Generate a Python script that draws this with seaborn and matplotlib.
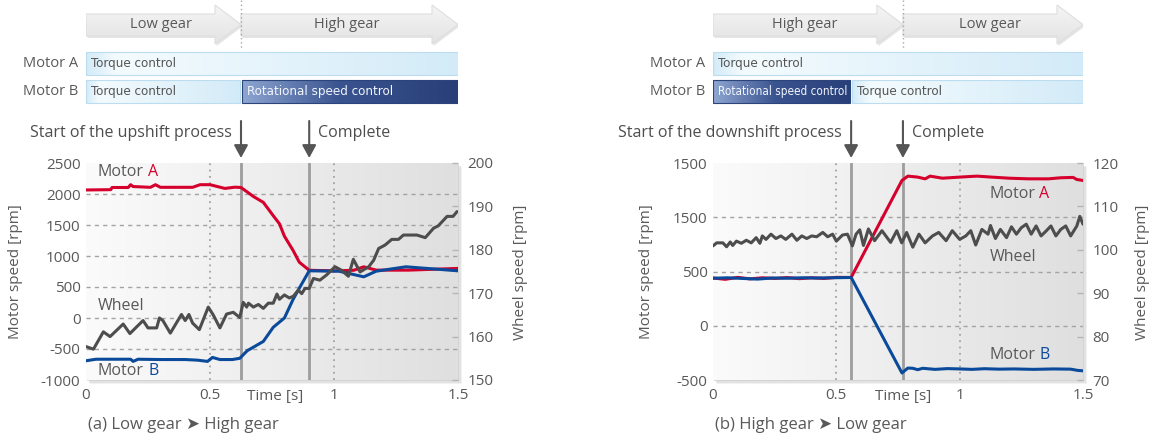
#!/usr/bin/env python3
import numpy as np
import matplotlib
matplotlib.use("Agg")
from matplotlib import pyplot as plt
from matplotlib.patches import Polygon, Rectangle
from matplotlib.colors import LinearSegmentedColormap
from matplotlib.offsetbox import TextArea, HPacker, AnnotationBbox
from matplotlib import font_manager
from matplotlib.font_manager import FontProperties
import seaborn as sns


# ---- (a) upshift: low gear -> high gear ----
up_start, up_complete = 0.625, 0.9
up_time_a = [0.0, 0.10, 0.105, 0.17, 0.18, 0.19, 0.26, 0.28, 0.30, 0.43, 0.46, 0.50, 0.56, 0.60, 0.625,
             0.675, 0.715, 0.755, 0.78, 0.80, 0.835, 0.86, 0.90, 1.00, 1.08, 1.12, 1.17, 1.30, 1.50]
up_motor_a = [2065, 2070, 2105, 2105, 2150, 2120, 2108, 2150, 2108, 2108, 2150, 2150, 2090, 2110, 2105,
              1960, 1865, 1650, 1520, 1320, 1090, 900, 770, 760, 770, 826, 772, 772, 800]
up_time_b = [0.0, 0.04, 0.18, 0.19, 0.21, 0.30, 0.40, 0.45, 0.49, 0.51, 0.54, 0.59, 0.62, 0.65, 0.715,
             0.755, 0.80, 0.835, 0.86, 0.90, 1.02, 1.12, 1.17, 1.29, 1.50]
up_motor_b = [-690, -665, -665, -700, -665, -670, -670, -680, -700, -636, -670, -670, -650, -528, -378,
              -150, 0, 300, 480, 761, 755, 664, 755, 826, 761]
up_time_wheel = [0.0, 0.03, 0.07, 0.097, 0.15, 0.177, 0.23, 0.25, 0.285, 0.296, 0.31, 0.34, 0.385, 0.40,
                 0.415, 0.43, 0.457, 0.493, 0.513, 0.54, 0.567, 0.594, 0.62, 0.634, 0.648, 0.655, 0.675,
                 0.695, 0.715, 0.735, 0.755, 0.77, 0.78, 0.80, 0.82, 0.836, 0.856, 0.87, 0.883, 0.90,
                 0.917, 0.943, 0.97, 1.004, 1.03, 1.058, 1.078, 1.105, 1.14, 1.16, 1.18, 1.206, 1.233,
                 1.26, 1.28, 1.334, 1.368, 1.402, 1.42, 1.456, 1.48, 1.496]
up_wheel = [157.7, 157.1, 161.1, 160.0, 162.9, 160.7, 163.7, 162.0, 162.0, 164.3, 163.7, 160.8, 165.1, 163.7,
            165.1, 163.1, 161.6, 166.8, 165.0, 162.0, 165.2, 165.6, 164.4, 167.9, 166.8, 167.7, 166.8,
            167.4, 166.5, 167.7, 167.7, 169.8, 168.6, 169.6, 168.9, 169.3, 170.7, 169.9, 171.1, 171.1,
            173.4, 173.0, 174.2, 176.1, 175.3, 173.9, 177.8, 174.9, 176.1, 177.6, 180.3, 181.1, 182.4,
            182.4, 183.4, 183.4, 182.8, 185.0, 185.5, 187.7, 187.7, 188.8]

# ---- (b) downshift: high gear -> low gear ----
down_start, down_complete = 0.56, 0.77
down_time_a = [0.0, 0.05, 0.10, 0.15, 0.20, 0.25, 0.30, 0.35, 0.40, 0.45, 0.50, 0.56, 0.766, 0.79, 0.83,
               0.86, 0.88, 0.93, 1.0, 1.07, 1.13, 1.2, 1.28, 1.36, 1.41, 1.46, 1.475, 1.50]
down_motor_a = [440, 428, 446, 432, 442, 436, 444, 434, 442, 436, 446, 445, 1339, 1379, 1370,
                1354, 1379, 1360, 1370, 1379, 1370, 1360, 1354, 1354, 1364, 1367, 1348, 1339]
down_time_b = [0.0, 0.06, 0.12, 0.18, 0.24, 0.30, 0.36, 0.42, 0.48, 0.56, 0.766, 0.79, 0.81, 0.83, 0.85,
               0.9, 0.95, 1.0, 1.05, 1.1, 1.16, 1.22, 1.3, 1.38, 1.45, 1.48, 1.50]
down_motor_b = [438, 442, 436, 430, 440, 438, 442, 440, 442, 445, -435, -390, -392, -405, -392,
                -402, -395, -398, -402, -396, -400, -398, -402, -398, -400, -412, -415]
down_time_wheel = [0.00, 0.015, 0.04, 0.055, 0.07, 0.08, 0.095, 0.115, 0.135, 0.155, 0.175, 0.19, 0.20,
                   0.215, 0.235, 0.255, 0.275, 0.295, 0.32, 0.34, 0.36, 0.38, 0.40, 0.42, 0.445, 0.465,
                   0.485, 0.50, 0.525, 0.545, 0.565, 0.58, 0.595, 0.61, 0.63, 0.655, 0.685, 0.72, 0.745,
                   0.765, 0.785, 0.81, 0.835, 0.86, 0.89, 0.915, 0.945, 0.97, 1.00, 1.025, 1.045, 1.065,
                   1.09, 1.115, 1.125, 1.145, 1.165, 1.19, 1.21, 1.23, 1.25, 1.27, 1.29, 1.31, 1.33,
                   1.35, 1.37, 1.39, 1.41, 1.43, 1.45, 1.475, 1.487, 1.50]
down_wheel = [100.9, 101.6, 101.6, 100.7, 101.8, 101.0, 102.0, 101.5, 102.2, 101.6, 102.8, 101.5, 103.2,
              102.4, 103.6, 102.6, 103.2, 102.4, 103.6, 102.2, 103.2, 102.6, 103.2, 103.0, 104.0, 103.0,
              103.6, 102.0, 103.4, 103.6, 100.9, 103.6, 104.6, 101.0, 104.8, 102.1, 104.4, 101.7, 104.4,
              101.6, 104.0, 100.6, 103.6, 101.6, 103.2, 104.0, 102.1, 104.4, 102.4, 103.2, 104.4, 101.1,
              104.7, 103.6, 105.6, 102.6, 104.7, 102.8, 105.3, 103.6, 105.1, 105.9, 103.6, 105.5, 103.2,
              104.3, 105.5, 103.2, 104.7, 105.5, 103.2, 105.5, 107.7, 105.9]

time_ticks = [0, 0.5, 1, 1.5]
time_ticklabels = ['0', '0.5', '1', '1.5']
up_motor_ticks = [-1000, -500, 0, 500, 1000, 1500, 2000, 2500]
up_motor_ticklabels = ['-1000', '-500', '0', '500', '1000', '1500', '2000', '2500']
down_motor_ticks = [-500, 0, 500, 1000, 1500]
down_motor_ticklabels = ['-500', '0', '500', '1500', '1500']
up_wheel_ticks = [150, 160, 170, 180, 190, 200]
down_wheel_ticks = [70, 80, 90, 100, 110, 120]

RED = '#d5002c'
BLUE = '#0b4a9b'
WHEEL = '#4d4d4d'
TXT = '#595959'
W, H = 1153, 441

sns.set_theme(style="white")
plt.rcParams['font.family'] = ['Open Sans', 'DejaVu Sans']
plt.rcParams['text.color'] = TXT


def narrow_font(size):
	# the control-mode labels use a condensed face; take one if any is installed
	for f in font_manager.fontManager.ttflist:
		n = f.name.lower()
		cond = 'narrow' in n or 'condensed' in n or f.stretch in ('condensed', 'semi-condensed')
		if cond and f.style == 'normal' and f.weight in (400, 'normal', 'regular'):
			return FontProperties(fname=f.fname, size=size)
	return FontProperties(family='Roboto', size=size - 1.2)


BAR_FONT = narrow_font(9.5)

fig = plt.figure(figsize=(W / 100, H / 100), dpi=100)
renderer = fig.canvas.get_renderer()


def px_box(x0, y0, x1, y1):
	return [x0 / W, 1 - y1 / H, (x1 - x0) / W, (y1 - y0) / H]


def grad_image(ax, extent, colors, vertical=False, clip=None, zorder=0):
	cmap = LinearSegmentedColormap.from_list('g', colors)
	g = np.linspace(0, 1, 256)
	g = g.reshape(-1, 1) if vertical else g.reshape(1, -1)
	im = ax.imshow(g, cmap=cmap, extent=extent, aspect='auto', zorder=zorder, interpolation='bilinear')
	if clip is not None:
		im.set_clip_path(clip)
	return im


def two_tone(ax, x, y, s1, s2, c2):
	kids = [TextArea(s1, textprops=dict(color=TXT, size=11.5))]
	if s2:
		kids.append(TextArea(s2, textprops=dict(color=c2, size=11.5)))
	box = HPacker(children=kids, sep=3, pad=0, align='baseline')
	ab = AnnotationBbox(box, (x, y), xycoords='data', frameon=False, box_alignment=(0, 0.5), pad=0, zorder=6)
	ax.add_artist(ab)


def draw_panel(p):
	x0, y0, x1, y1 = p['box']
	sc = (x1 - x0) / 1.5   # pixels per second

	# soft shadow behind the plot area
	for off, a in [(4, 0.25), (2.5, 0.45), (1.2, 0.7)]:
		fig.patches.append(Rectangle(((x0 + off) / W, 1 - (y1 + off) / H), (x1 - x0) / W, (y1 - y0) / H,
		                             transform=fig.transFigure, color='#cfcfcf', alpha=a, zorder=-1, lw=0))

	ax = fig.add_axes(px_box(x0, y0, x1, y1))
	ymin, ymax = p['motor_ticks'][0], p['motor_ticks'][-1]
	grad_image(ax, (0, 1.5, ymin, ymax), [(0, '#fbfbfb'), (1, '#dfdfdf')], zorder=0)
	for v in p['motor_ticks'][1:-1]:
		ax.axhline(v, color='#a3a3a3', lw=1, ls=(0, (3, 3)), zorder=1)
	for t in time_ticks[1:-1]:
		ax.axvline(t, color='#a3a3a3', lw=1.3, ls=(0, (1, 2.5)), zorder=1)
	for t in (p['start'], p['complete']):
		ax.axvline(t, color='#9d9d9d', lw=2, zorder=2)

	sns.lineplot(x=p['time_a'], y=p['motor_a'], ax=ax, color=RED, linewidth=2.2, zorder=4)
	sns.lineplot(x=p['time_b'], y=p['motor_b'], ax=ax, color=BLUE, linewidth=2.2, zorder=4)

	ax.set_xlim(0, 1.5)
	ax.set_ylim(ymin, ymax)
	ax.set_xticks(time_ticks, time_ticklabels)
	ax.set_yticks(p['motor_ticks'], p['motor_ticklabels'])
	ax.tick_params(axis='both', length=0, labelsize=11, labelcolor=TXT)
	ax.tick_params(axis='x', pad=6)
	ax.tick_params(axis='y', pad=4)
	for s in ax.spines.values():
		s.set_visible(False)
	ax.set_xlabel('')
	ax.set_ylabel('')
	ax.text(p['time_label'], -0.078, 'Time [s]', transform=ax.get_xaxis_transform(),
	        ha='center', va='center', fontsize=11, color=TXT)

	ax2 = ax.twinx()
	sns.lineplot(x=p['time_wheel'], y=p['wheel'], ax=ax2, color=WHEEL, linewidth=2.2, zorder=3)
	ax2.set_ylim(p['wheel_ticks'][0], p['wheel_ticks'][-1])
	ax2.set_yticks(p['wheel_ticks'], [str(v) for v in p['wheel_ticks']])
	ax2.tick_params(axis='y', direction='in', length=4, width=1, color='#b5b5b5',
	                labelsize=11, labelcolor=TXT, pad=7)
	for s in ax2.spines.values():
		s.set_visible(False)
	ax2.set_ylabel('')
	ax2.set_xlim(0, 1.5)

	for (tx, ty, s1, s2, c2) in p['labels']:
		two_tone(ax, tx, ty, s1, s2, c2)

	fig.text(p['ylab_x'] / W, 1 - 272 / H, 'Motor speed [rpm]', rotation=90, ha='center', va='center',
	         fontsize=11, color=TXT)
	fig.text(p['y2lab_x'] / W, 1 - 272 / H, 'Wheel speed [rpm]', rotation=90, ha='center', va='center',
	         fontsize=11, color=TXT)
	fig.text((x0 + 2) / W, 1 - 425 / H, p['caption'], ha='left', va='center', fontsize=12, color=TXT)

	# ---- header: gears, control modes, shift markers ----
	axt = fig.add_axes(px_box(x0, 0, x1, 160))
	axt.set_xlim(0, 1.5)
	axt.set_ylim(160, 0)
	axt.axis('off')
	hl = 26 / sc
	for (a, b, name) in p['gears']:
		verts = [(a, 14), (b - hl, 14), (b - hl, 5), (b, 24.5), (b - hl, 44), (b - hl, 36), (a, 36)]
		sh = Polygon([(vx + 1.5 / sc, vy + 2) for vx, vy in verts], closed=True, facecolor='#d4d4d4',
		             edgecolor='none', alpha=0.6, zorder=1)
		axt.add_patch(sh)
		poly = Polygon(verts, closed=True, facecolor='none', edgecolor='#dedede', lw=0.8, zorder=3)
		axt.add_patch(poly)
		grad_image(axt, (a, b, 44, 5), ['#f5f5f5', '#e3e3e3'], vertical=True, clip=poly, zorder=2)
		axt.text((a + b) / 2 - 3 / sc, 24.5, name, ha='center', va='center', fontsize=10.5, color=TXT, zorder=4)
	axt.plot([p['gear_switch']] * 2, [0, 48], color='#a8a8a8', lw=1, ls=(0, (1, 2)), zorder=5)

	rows = [('Motor A', 52, 75, p['ctrl_a']), ('Motor B', 80, 103, p['ctrl_b'])]
	for (name, ya, yb, segs) in rows:
		axt.text(-8 / sc, (ya + yb) / 2, name, ha='right', va='center', fontsize=10.5, color=TXT)
		for (a, b, label, dark) in segs:
			a2 = a + (1 / sc if a > 0 else 0)
			b2 = b - (1 / sc if b < 1.5 else 0)
			if dark:
				cols = [(0, '#8ea6d1'), (0.45, '#3a5490'), (1, '#283f78')]
				ec, tc = '#2c447c', '#f2f5fb'
			else:
				cols = [(0, '#d3ebf8'), (0.08, '#f4fbfe'), (1, '#d3ebf8')]
				ec, tc = '#bcdcef', '#555555'
			rect = Rectangle((a2, ya), b2 - a2, yb - ya, facecolor='none', edgecolor=ec, lw=0.8, zorder=3)
			axt.add_patch(rect)
			grad_image(axt, (a2, b2, yb, ya), cols, clip=rect, zorder=2)
			txt = axt.text(a2 + 5 / sc, (ya + yb) / 2 + 0.5, label, ha='left', va='center',
			               fontproperties=BAR_FONT.copy(), color=tc, zorder=4)
			# shrink the label if it would run past the end of its bar
			avail = (b2 - a2) * sc - 8
			width = txt.get_window_extent(renderer).width
			if width > avail:
				txt.set_fontsize(txt.get_fontsize() * avail / width)

	for t in (p['start'], p['complete']):
		axt.annotate('', xy=(t, 158), xytext=(t, 121),
		             arrowprops=dict(arrowstyle='-|>,head_length=0.55,head_width=0.3', color='#555555',
		                             lw=1.5, shrinkA=0, shrinkB=0, mutation_scale=14))
	axt.text(p['start'] - 9 / sc, 133, p['start_text'], ha='right', va='center', fontsize=11.5, color='#4d4d4d')
	axt.text(p['complete'] + 9 / sc, 133, 'Complete', ha='left', va='center', fontsize=11.5, color='#4d4d4d')
	axt.set_xlim(0, 1.5)
	axt.set_ylim(160, 0)


panels = [
	dict(box=(86, 163, 458, 380), start=up_start, complete=up_complete, gear_switch=up_start,
	     time_a=up_time_a, motor_a=up_motor_a, time_b=up_time_b, motor_b=up_motor_b,
	     time_wheel=up_time_wheel, wheel=up_wheel,
	     motor_ticks=up_motor_ticks, motor_ticklabels=up_motor_ticklabels, wheel_ticks=up_wheel_ticks,
	     time_label=0.762, ylab_x=16, y2lab_x=520,
	     labels=[(0.048, 2355, 'Motor', 'A', RED), (0.048, 190, 'Wheel', '', WHEEL),
	             (0.048, -860, 'Motor', 'B', BLUE)],
	     gears=[(0, up_start, 'Low gear'), (up_start, 1.5, 'High gear')],
	     ctrl_a=[(0, 1.5, 'Torque control', False)],
	     ctrl_b=[(0, up_start, 'Torque control', False), (up_start, 1.5, 'Rotational speed control', True)],
	     start_text='Start of the upshift process', caption='(a) Low gear \u27a4 High gear'),
	dict(box=(713, 163, 1083, 380), start=down_start, complete=down_complete, gear_switch=down_complete,
	     time_a=down_time_a, motor_a=down_motor_a, time_b=down_time_b, motor_b=down_motor_b,
	     time_wheel=down_time_wheel, wheel=down_wheel,
	     motor_ticks=down_motor_ticks, motor_ticklabels=down_motor_ticklabels, wheel_ticks=down_wheel_ticks,
	     time_label=0.77, ylab_x=647, y2lab_x=1142,
	     labels=[(1.12, 1214, 'Motor', 'A', RED), (1.12, 634, 'Wheel', '', WHEEL),
	             (1.12, -270, 'Motor', 'B', BLUE)],
	     gears=[(0, down_complete, 'High gear'), (down_complete, 1.5, 'Low gear')],
	     ctrl_a=[(0, 1.5, 'Torque control', False)],
	     ctrl_b=[(0, down_start, 'Rotational speed control', True), (down_start, 1.5, 'Torque control', False)],
	     start_text='Start of the downshift process', caption='(b) High gear \u27a4 Low gear'),
]

for p in panels:
	draw_panel(p)

fig.savefig('out.png', dpi=100)
